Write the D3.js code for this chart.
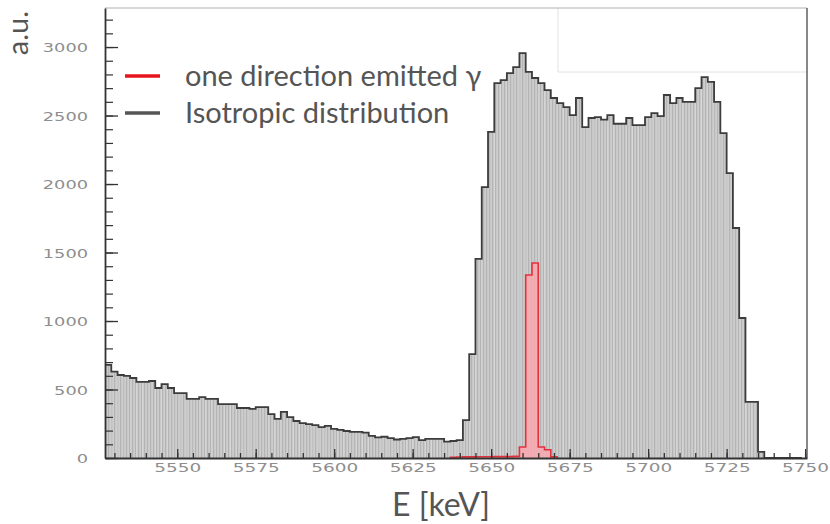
<!DOCTYPE html>
<html><head><meta charset="utf-8">
<script src="https://cdn.jsdelivr.net/npm/d3@7"></script>
<style>body{margin:0;background:#fff}svg{display:block}</style>
</head><body>
<svg id="c" width="830" height="524"></svg>
<script>
// ---- data ----
const binStart = 5527;      // keV, first bin low edge
const binWidth = 2;         // keV
const isotropic = [680,630,606,599,584,555,555,562,511,540,511,474,474,431,431,445,431,431,394,394,
  394,365,365,358,372,372,321,285,336,299,270,255,248,240,226,234,212,205,197,190,
  190,185,161,150,155,145,135,139,145,153,131,139,139,139,120,124,130,
  277,759,1453,1978,2380,2737,2759,2810,2854,2956,2818,2774,2737,2686,2628,2591,2562,2503,2628,2416,
  2482,2489,2470,2503,2440,2440,2482,2430,2430,2489,2518,2495,2650,2591,2628,2600,2600,2700,2781,2745,
  2600,2372,2080,1679,1022,409,409,44,0,0,0,0,0,0];
const oneDirection = [0,0,0,0,0,0,0,0,0,0,0,0,0,0,0,0,0,0,0,0,
  0,0,0,0,0,0,0,0,0,0,0,0,0,0,0,0,0,0,0,0,
  0,0,0,0,0,0,0,0,0,0,0,0,0,0,0,6,7,8,8,9,9,9,10,10,10,12,80,1336,1423,80,
  60,8,0,0,0,0,0,0,0,0,0,0,0,0,0,0,0,0,0,0,
  0,0,0,0,0,0,0,0,0,0,0];
const yMajorTicks = [0,500,1000,1500,2000,2500,3000];
const xMajorTicks = [5550,5575,5600,5625,5650,5675,5700,5725,5750];
const legendLabels = ["one direction emitted γ","Isotropic distribution"];
const xTitle = "E [keV]";
const yTitle = "a.u.";

// ---- layout ----
const L=105, R=807, T=8, B=458;
const svg = d3.select("#c");
const x = d3.scaleLinear().domain([5527,5750.6]).range([L,R]);
const y = d3.scaleLinear().domain([0,3285]).range([B,T]);

const defs = svg.append("defs");
const pat = defs.append("pattern").attr("id","stripes").attr("patternUnits","userSpaceOnUse")
  .attr("width",3).attr("height",10);
pat.append("rect").attr("width",3).attr("height",10).attr("fill","#cdcdcd");
pat.append("rect").attr("width",1.2).attr("height",10).attr("fill","#b4b4b4");
defs.append("clipPath").attr("id","plot").append("rect").attr("x",L).attr("y",T).attr("width",R-L).attr("height",B-T);

const bins = isotropic.map((v,i)=>({x0:binStart+i*binWidth, x1:binStart+(i+1)*binWidth, v, r:oneDirection[i]||0}));

const g = svg.append("g").attr("clip-path","url(#plot)");

// faint stats-box remnant
svg.append("path").attr("d",`M${558},${T}V${72}H${R}`).attr("fill","none").attr("stroke","#e2e2e2").attr("stroke-width",1);

function stepPath(acc){
  let d = `M${x(bins[0].x0)},${y(0)}`;
  bins.forEach(b=>{ d += `V${y(acc(b))}H${x(b.x1)}`; });
  d += `V${y(0)}`;
  return d;
}
// gray histogram fill
g.selectAll("rect.iso").data(bins).join("rect").attr("class","iso")
  .attr("x",d=>x(d.x0)).attr("width",d=>x(d.x1)-x(d.x0))
  .attr("y",d=>y(d.v)).attr("height",d=>y(0)-y(d.v))
  .attr("fill","url(#stripes)");
g.append("path").attr("d",stepPath(b=>b.v)).attr("fill","none")
  .attr("stroke","#3c3c3c").attr("stroke-width",1.8).attr("stroke-linejoin","miter");

// red histogram
const rbins = bins.filter(b=>b.r>0);
g.selectAll("rect.red").data(rbins).join("rect").attr("class","red")
  .attr("x",d=>x(d.x0)).attr("width",d=>x(d.x1)-x(d.x0))
  .attr("y",d=>y(d.r)).attr("height",d=>y(0)-y(d.r))
  .attr("fill","#f6a9b0").attr("fill-opacity",0.92);
(function(){
  let d = `M${x(rbins[0].x0)},${y(0)}`;
  rbins.forEach(b=>{ d += `V${y(b.r)}H${x(b.x1)}`; });
  d += `V${y(0)}`;
  g.append("path").attr("d",d).attr("fill","none").attr("stroke","#e3313c").attr("stroke-width",1.6);
})();

// frame
svg.append("line").attr("x1",L).attr("x2",R).attr("y1",T).attr("y2",T).attr("stroke","#b0b0b0").attr("stroke-width",1.2);
svg.append("line").attr("x1",R).attr("x2",R).attr("y1",T).attr("y2",B).attr("stroke","#555").attr("stroke-width",1.4);

// axes
const tickFont = "DejaVu Sans, sans-serif";
const fmt = d3.format("d");
function styleAxis(sel){ sel.select(".domain").attr("stroke","#333").attr("stroke-width",1.8);
  sel.selectAll(".tick line").attr("stroke","#333").attr("stroke-width",1.3); }
const yMinor = d3.range(0,3285,100);
svg.append("g").attr("transform",`translate(${L},0)`)
  .call(d3.axisLeft(y).tickValues(yMinor).tickSize(-8).tickFormat("").tickSizeOuter(0))
  .call(s=>{s.select(".domain").remove(); s.selectAll(".tick line").attr("stroke","#333").attr("stroke-width",1.2);});
const ya = svg.append("g").attr("transform",`translate(${L},0)`)
  .call(d3.axisLeft(y).tickValues(yMajorTicks).tickFormat(fmt).tickSize(-13).tickPadding(17).tickSizeOuter(0));
styleAxis(ya);
ya.selectAll("text").attr("font-family",tickFont).attr("font-size",12.5).attr("fill","#8e8e8e")
  .attr("textLength",d=>fmt(d).length*11.3).attr("lengthAdjust","spacingAndGlyphs").attr("dy","0.36em");

const xMinor = d3.range(5530,5751,5);
svg.append("g").attr("transform",`translate(0,${B})`)
  .call(d3.axisBottom(x).tickValues(xMinor).tickSize(-5).tickFormat("").tickSizeOuter(0))
  .call(s=>{s.select(".domain").remove(); s.selectAll(".tick line").attr("stroke","#333").attr("stroke-width",1.3);});
const xa = svg.append("g").attr("transform",`translate(0,${B})`)
  .call(d3.axisBottom(x).tickValues(xMajorTicks).tickFormat(fmt).tickSize(-9).tickPadding(5).tickSizeOuter(0));
styleAxis(xa);
xa.selectAll("text").attr("font-family",tickFont).attr("font-size",12.5).attr("fill","#8e8e8e")
  .attr("textLength",d=>fmt(d).length*11.75).attr("lengthAdjust","spacingAndGlyphs");

// titles
const titleFont = "Lato, 'Open Sans', sans-serif";
svg.append("text").attr("x",441).attr("y",516).attr("text-anchor","middle")
  .attr("font-family",titleFont).attr("font-size",32).attr("fill","#555").text(xTitle);
svg.append("text").attr("transform","translate(28,33) rotate(-90)").attr("text-anchor","middle")
  .attr("font-family",titleFont).attr("font-size",29).attr("fill","#555").text(yTitle);

// legend
const legColors = ["#e8141c","#555555"];
const leg = svg.append("g");
legendLabels.forEach((t,i)=>{
  const yy = 76 + i*37;
  leg.append("line").attr("x1",125).attr("x2",160).attr("y1",yy).attr("y2",yy)
    .attr("stroke",legColors[i]).attr("stroke-width",3.5);
  leg.append("text").attr("x",185).attr("y",yy+10).attr("font-family",titleFont)
    .attr("font-size",29).attr("fill","#555").text(t);
});
</script>
</body></html>
